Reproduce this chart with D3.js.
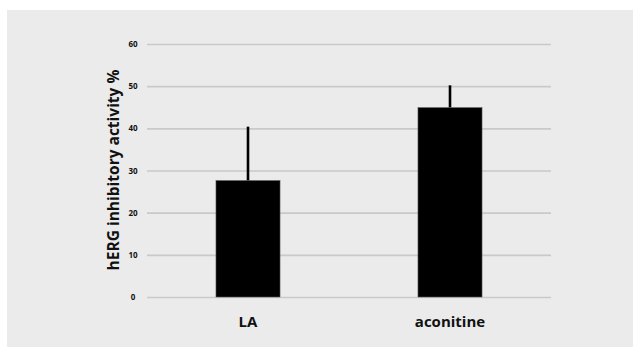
<!DOCTYPE html>
<html>
<head>
<meta charset="utf-8">
<script src="https://cdn.jsdelivr.net/npm/d3@7"></script>
<style>
  html, body { margin: 0; padding: 0; background: #ffffff; }
  svg { display: block; }
  text { font-family: "Open Sans", "Liberation Sans", sans-serif; font-weight: 700; fill: #111; }
</style>
</head>
<body>
<svg id="chart" width="635" height="348"></svg>
<script>
// Inhibition of the hERG channel, mean with upper SD whisker
const categories = ["LA", "aconitine"];
const means = [27.6, 44.9];
const sds = [12.8, 5.3];
const yTicks = [0, 10, 20, 30, 40, 50, 60];

const svg = d3.select("#chart");
const W = 635, H = 348;

// grey panel behind the plot
svg.append("rect")
  .attr("x", 7).attr("y", 10)
  .attr("width", W - 9).attr("height", H - 11)
  .attr("fill", "#ebebeb");

const x = d3.scaleBand()
  .domain(categories)
  .range([147, 551])
  .paddingInner(0.683)
  .paddingOuter(0.683 / 2);

const y = d3.scaleLinear()
  .domain([0, 60])
  .range([297, 44]);

// horizontal gridlines with tick labels
const yAxis = d3.axisLeft(y)
  .tickValues(yTicks)
  .tickSize(-(551 - 147))
  .tickPadding(14)
  .tickFormat(d3.format("d"));

const gy = svg.append("g")
  .attr("transform", "translate(147,0)")
  .call(yAxis);
gy.select(".domain").remove();
gy.selectAll(".tick line")
  .attr("stroke", "#c9c9c9")
  .attr("stroke-width", 1.6);
gy.selectAll(".tick text")
  .attr("font-size", 8)
  .attr("fill", "#222")
  .attr("text-anchor", "middle");

// bars
const data = categories.map((c, i) => ({ c, m: means[i], sd: sds[i] }));

svg.append("g").selectAll("line.err")
  .data(data)
  .join("line")
  .attr("class", "err")
  .attr("x1", d => x(d.c) + x.bandwidth() / 2)
  .attr("x2", d => x(d.c) + x.bandwidth() / 2)
  .attr("y1", d => y(d.m))
  .attr("y2", d => y(d.m + d.sd))
  .attr("stroke", "#000")
  .attr("stroke-width", 2.6);

svg.append("g").selectAll("rect.bar")
  .data(data)
  .join("rect")
  .attr("class", "bar")
  .attr("x", d => x(d.c))
  .attr("y", d => y(d.m))
  .attr("width", x.bandwidth())
  .attr("height", d => y(0) - y(d.m))
  .attr("fill", "#000")
  .attr("stroke", "#555")
  .attr("stroke-width", 0.6);

// category labels
const xAxis = d3.axisBottom(x).tickSize(0).tickPadding(0);
const gx = svg.append("g")
  .attr("transform", "translate(0,297)")
  .call(xAxis);
gx.select(".domain").remove();
gx.selectAll(".tick text")
  .attr("font-size", 15)
  .attr("fill", "#111")
  .attr("y", 30)
  .attr("dy", 0);

// y axis title
svg.append("text")
  .attr("transform", "translate(119,170) rotate(-90)")
  .attr("text-anchor", "middle")
  .attr("font-size", 15.5)
  .text("hERG inhibitory activity %");
</script>
</body>
</html>
